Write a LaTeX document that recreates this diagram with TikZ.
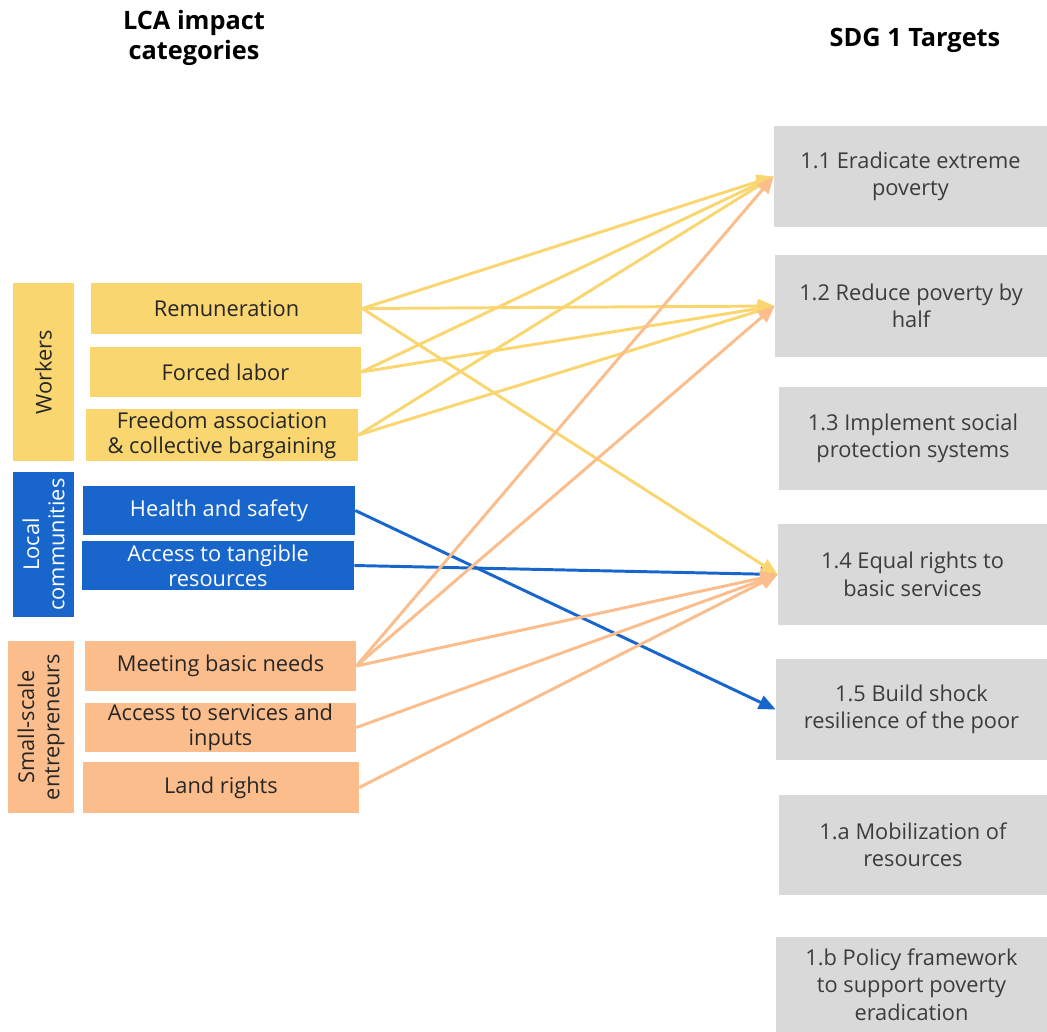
\documentclass[tikz,border=0pt]{standalone}
\usepackage{fontspec}
\setmainfont{Open Sans}
\usetikzlibrary{arrows.meta,positioning}
\definecolor{catyellow}{RGB}{250,214,112}
\definecolor{catblue}{RGB}{24,102,204}
\definecolor{catorange}{RGB}{252,189,140}
\definecolor{targetgray}{RGB}{217,217,217}
\definecolor{textgray}{RGB}{60,60,60}

\begin{document}
\begin{tikzpicture}[x=0.025cm,y=-0.025cm,
  box/.style={rectangle,inner sep=0pt,align=center,text=black!85,font=\fontsize{15.5}{18}\selectfont},
  group/.style={box,rotate=90,minimum height=1.525cm},
  impact/.style={box,minimum width=6.8cm,minimum height=1.25cm},
  target/.style={box,fill=targetgray,text=textgray,minimum height=2.525cm,font=\fontsize{15.5}{19.5}\selectfont},
  title/.style={align=center,font=\fontsize{18}{21.5}\selectfont\bfseries},
  link/.style={line width=2.1pt,-{Triangle[length=12pt,width=10pt]}}]
\useasboundingbox (0,0) rectangle (1047,1032);
% headings
\node[title] (lcatitle) at (194,38) {LCA impact\\categories};
\node[title] (sdgtitle) at (915,40) {SDG 1 Targets};
% stakeholder groups
\node[group,fill=catyellow,minimum width=4.45cm] (workers) at (43.5,372) {Workers};
\node[group,fill=catblue,text=white,minimum width=3.625cm] (local) at (43.5,544.5) {Local\\communities};
\node[group,fill=catorange,minimum width=4.3cm,minimum height=1.65cm] (small) at (41,727) {Small-scale\\entrepreneurs};
% impact categories
\node[impact,fill=catyellow,minimum width=6.775cm,minimum height=1.275cm] (remun) at (226.5,308.5) {Remuneration};
\node[impact,fill=catyellow,minimum width=6.775cm] (forced) at (225.5,372) {Forced labor};
\node[impact,fill=catyellow,minimum height=1.3cm] (freedom) at (222,435) {Freedom association\\\& collective bargaining};
\node[impact,fill=catblue,text=white,minimum height=1.225cm] (health) at (219,510.5) {Health and safety};
\node[impact,fill=catblue,text=white,minimum height=1.225cm] (tangible) at (218,565.5) {Access to tangible\\resources};
\node[impact,fill=catorange,minimum width=6.775cm] (needs) at (220.5,666) {Meeting basic needs};
\node[impact,fill=catorange,minimum width=6.775cm,minimum height=1.225cm] (services) at (220.5,727.5) {Access to services and\\inputs};
\node[impact,fill=catorange,minimum width=6.9cm,minimum height=1.275cm] (land) at (221,787.5) {Land rights};
% sdg targets
\node[target,minimum width=6.825cm] (t11) at (910.5,176.5) {1.1 Eradicate extreme\\poverty};
\node[target,minimum width=6.8cm,minimum height=2.55cm] (t12) at (911,306) {1.2 Reduce poverty by\\half};
\node[target,minimum width=6.7cm,minimum height=2.575cm] (t13) at (913,438.5) {1.3 Implement social\\protection systems};
\node[target,minimum width=6.725cm] (t14) at (912.5,574.5) {1.4 Equal rights to\\basic services};
\node[target,minimum width=6.775cm] (t15) at (911.5,709.5) {1.5 Build shock\\resilience of the poor};
\node[target,minimum width=6.7cm,minimum height=2.5cm] (t1a) at (913,845) {1.a Mobilization of\\resources};
\node[target,minimum width=6.775cm,minimum height=2.375cm] (t1b) at (911.5,984.5) {1.b Policy framework\\to support poverty\\eradication};
% links
\draw[link,catblue] (health.east) -- (t15.west);
\draw[link,catblue] (tangible.east) -- (t14.west);
\foreach \src/\dst in {remun/t11,remun/t12,remun/t14,forced/t11,forced/t12,freedom/t11,freedom/t12}
  \draw[link,catyellow] (\src.east) -- (\dst.west);
\foreach \src/\dst in {needs/t11,needs/t12,needs/t14,services/t14,land/t14}
  \draw[link,catorange] (\src.east) -- (\dst.west);
\end{tikzpicture}
\end{document}
